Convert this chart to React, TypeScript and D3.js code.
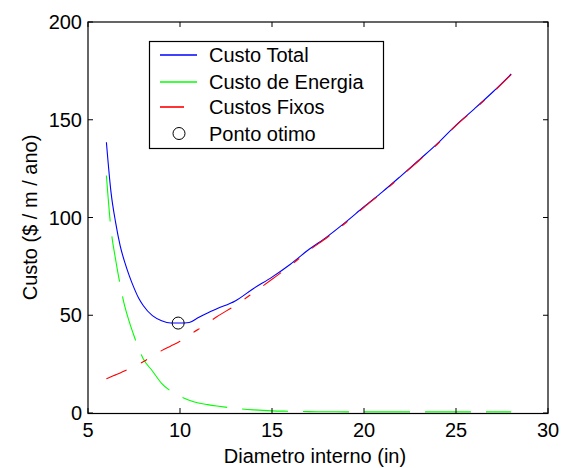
import React from "react";
import * as d3 from "d3";

// Pipe diameter (in) at which the costs are tabulated
const diameters = [6, 6.25, 6.5, 6.75, 7, 7.25, 7.5, 7.75, 8, 8.5, 9, 9.5, 10, 10.5, 11, 11.5, 12, 13, 14, 15, 16, 17, 18, 19, 20, 21, 22, 23, 24, 25, 26, 27, 28];

// Total cost ($ / m / year)
const totalCost = [138.5, 113, 97.5, 85.5, 77, 70, 64, 58.8, 55, 49.8, 47.2, 46, 46, 46.3, 48.8, 51.2, 53.3, 57.3, 63.7, 69.5, 76.1, 83.6, 90.2, 97.6, 105.5, 113.1, 121.2, 129.5, 137.9, 147.3, 155.6, 164.2, 173.4];

// Energy (pumping) cost
const energyCost = [121.5, 94, 78.5, 65.5, 54.5, 46.5, 39.5, 33, 27.8, 21.5, 15.2, 11.2, 8.6, 6.5, 5.1, 4.3, 3.6, 2.4, 1.6, 1.1, 0.9, 0.7, 0.65, 0.6, 0.6, 0.6, 0.6, 0.6, 0.6, 0.6, 0.6, 0.6, 0.6];

// Fixed (capital) cost
const fixedCost = [17.5, 18.5, 19.5, 20.5, 21.6, 22.6, 23.7, 24.9, 26.2, 29, 31.9, 34.3, 36.7, 40, 42.8, 46, 49.2, 55, 61.6, 68.4, 75.4, 83.1, 89.8, 97.2, 105.2, 112.8, 120.9, 129.2, 137.6, 147, 155.3, 163.9, 173.1];

// Optimum point (minimum total cost)
const optimum = { d: 9.9, cost: 46 };

const xTicks = [5, 10, 15, 20, 25, 30];
const yTicks = [0, 50, 100, 150, 200];

const legendLabels = ["Custo Total", "Custo de Energia", "Custos Fixos", "Ponto otimo"];

const W = 564;
const H = 468;
const left = 88;
const right = 548;
const top = 22;
const bottom = 413;
const font = "'Liberation Sans', Arial, Helvetica, sans-serif";
const fs = 20;
const tickLen = 5;

export default function App() {
  const x = d3.scaleLinear().domain([5, 30]).range([left, right]);
  const y = d3.scaleLinear().domain([0, 200]).range([bottom, top]);

  const makeLine = (vals: number[]) =>
    d3
      .line<number>()
      .x((_, i) => x(diameters[i]))
      .y((v) => y(v))
      .curve(d3.curveMonotoneX)(vals) || "";

  const series = [
    { vals: totalCost, color: "#0000ff", dash: undefined as string | undefined },
    { vals: energyCost, color: "#00ff00", dash: "46 15" },
    { vals: fixedCost, color: "#ff0000", dash: "22 16 7 16" },
  ];

  const legX = 149.5;
  const legY = 41.5;
  const legW = 234;
  const legH = 107;
  const rowY = [55, 81.5, 107, 133.5];

  return (
    <svg
      width={W}
      height={H}
      style={{ position: "absolute", left: 0, top: 0, background: "#fff" }}
      fontFamily={font}
    >
      <rect x={0} y={0} width={W} height={H} fill="#fff" />

      {/* plotted curves */}
      {series.map((s, i) => (
        <path
          key={i}
          d={makeLine(s.vals)}
          fill="none"
          stroke={s.color}
          strokeWidth={1.1}
          strokeDasharray={s.dash}
        />
      ))}
      <circle cx={x(optimum.d)} cy={y(optimum.cost)} r={6} fill="none" stroke="#000" strokeWidth={1} />

      {/* axes frame */}
      <rect x={left} y={top} width={right - left} height={bottom - top + 0.5} fill="none" stroke="#000" strokeWidth={1.2} />

      {/* x ticks, on bottom and top, pointing inward */}
      {xTicks.map((t) => (
        <g key={"x" + t}>
          <line x1={x(t)} x2={x(t)} y1={bottom} y2={bottom - tickLen} stroke="#000" />
          <line x1={x(t)} x2={x(t)} y1={top} y2={top + tickLen} stroke="#000" />
          <text x={x(t)} y={437} textAnchor="middle" fontSize={fs} fill="#000">
            {t}
          </text>
        </g>
      ))}

      {/* y ticks, on left and right, pointing inward */}
      {yTicks.map((t) => (
        <g key={"y" + t}>
          <line x1={left} x2={left + tickLen} y1={y(t)} y2={y(t)} stroke="#000" />
          <line x1={right} x2={right - tickLen} y1={y(t)} y2={y(t)} stroke="#000" />
          <text x={82} y={y(t)} dy="0.35em" textAnchor="end" fontSize={fs} fill="#000">
            {t}
          </text>
        </g>
      ))}

      {/* axis titles */}
      <text x={315} y={463} textAnchor="middle" fontSize={fs} fill="#000">
        Diametro interno (in)
      </text>
      <text
        transform={`translate(37, ${(top + bottom) / 2}) rotate(-90)`}
        textAnchor="middle"
        fontSize={fs}
        fill="#000"
      >
        Custo ($ / m / ano)
      </text>

      {/* legend */}
      <rect x={legX} y={legY} width={legW} height={legH} fill="#fff" stroke="#000" strokeWidth={1.2} />
      <line x1={160} x2={197} y1={rowY[0]} y2={rowY[0]} stroke="#0000ff" strokeWidth={1.6} />
      <line x1={160} x2={197} y1={rowY[1] + 0.5} y2={rowY[1] + 0.5} stroke="#00ff00" strokeWidth={1.6} />
      <line x1={160} x2={184} y1={rowY[2]} y2={rowY[2]} stroke="#ff0000" strokeWidth={1.6} />
      <circle cx={179} cy={rowY[3]} r={6} fill="none" stroke="#000" strokeWidth={1} />
      {legendLabels.map((l, i) => (
        <text key={l} x={209} y={rowY[i]} dy="0.35em" fontSize={fs} fill="#000">
          {l}
        </text>
      ))}
    </svg>
  );
}
